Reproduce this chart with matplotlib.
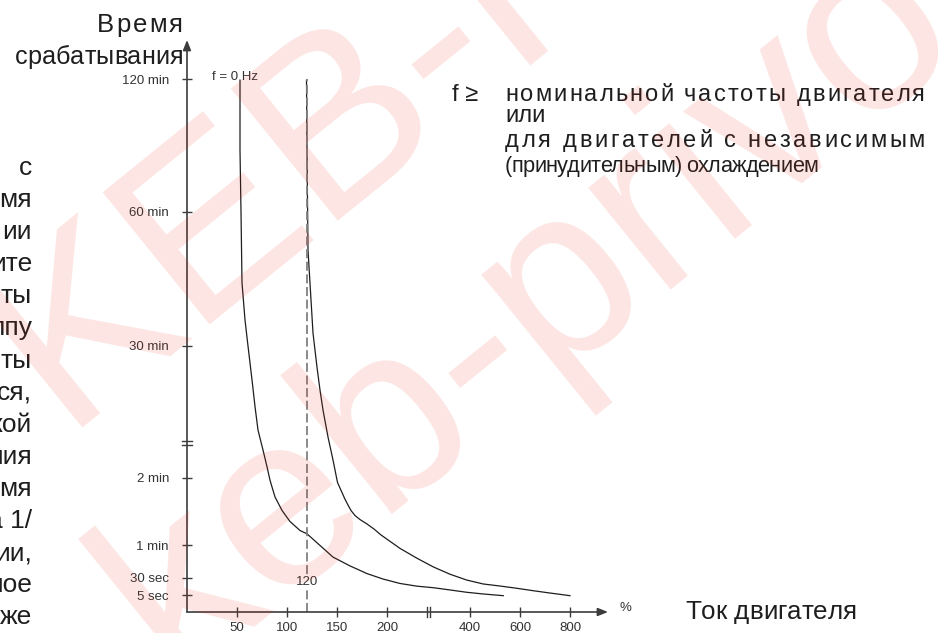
import numpy as np
import matplotlib
matplotlib.use("Agg")
import matplotlib.pyplot as plt
from matplotlib import font_manager, ft2font
from matplotlib.transforms import ScaledTranslation

plt.rcParams['font.family'] = ['Liberation Sans', 'DejaVu Sans']

# axis ticks
current_ticks = [50, 100, 150, 200, 400, 600, 800]
time_ticks = [5, 30, 60, 120, 1800, 3600, 7200]          # seconds
time_labels = ["5 sec", "30 sec", "1 min", "2 min", "30 min", "60 min", "120 min"]

# trip curve at f = 0 Hz  (motor current %, trip time s)
i_0hz = [53, 53, 54, 55, 58, 61, 65, 68, 71, 76, 80, 83, 88, 95, 103, 113, 120, 130,
         146, 163, 180, 196, 231, 272, 312, 352, 392, 453, 533]
t_0hz = [7170, 5280, 3600, 2650, 2150, 1800, 1370, 1030, 730, 476, 264, 118, 103, 91,
         81, 73, 70, 62, 49, 41, 34, 28.5, 22, 18, 15.7, 12.4, 9, 6.5, 4.8]

# trip curve at f >= rated frequency
i_nom = [119.5, 120, 121, 124, 126, 130, 133, 136, 141, 146, 150.5, 158, 161, 164, 168,
         173, 180, 187, 194, 231, 272, 312, 352, 392, 453, 520, 587, 653, 720, 800]
t_nom = [7170, 5280, 3090, 2420, 1975, 1530, 1240, 985, 642, 349, 116, 101, 95.8, 90.9,
         86.4, 82.8, 78.8, 74.3, 69, 57, 48, 40, 33.4, 27, 21.2, 18.2, 14.9, 11.3, 7.9, 4.8]

rated_current = 120
rated_top = 7200

# the drawing uses a broken, non-uniform scale on both axes
CUR_NODES = [0, 200, 400, 600, 800, 1000, 1200]
CUR_POS = [0, 200, 283, 333, 383, 433, 483]
T_NODES = [0, 5, 30, 60, 120, 1800, 3600, 7200, 10800]
T_POS = [0, 17, 34, 67, 134, 266, 400, 533, 611]
x_break = 300
y_break = 565

W, H = 938, 633
INK = '#1e1e1e'
AXIS = '#3c3c3c'
LBL = '#333333'
TEXT_FONT = 'Liberation Sans'

fig = plt.figure(figsize=(W / 100, H / 100), dpi=100)
ax = fig.add_axes([187 / W, 21 / H, 421 / W, 572 / H])
ax.set_xscale('function', functions=(lambda v: np.interp(v, CUR_NODES, CUR_POS),
                                     lambda p: np.interp(p, CUR_POS, CUR_NODES)))
ax.set_yscale('function', functions=(lambda v: np.interp(v, T_NODES, T_POS),
                                     lambda p: np.interp(p, T_POS, T_NODES)))
ax.set_xlim(0, 952)
ax.set_ylim(0, 9000)

ax.plot(i_0hz, t_0hz, color=INK, lw=0.9)
ax.plot(i_nom, t_nom, color=INK, lw=0.9)
ax.plot([rated_current, rated_current], [0, rated_top], color='#808080', lw=1.3, ls=(0, (5, 2)))
ax.text(rated_current, 24, "120", ha='center', va='center', fontsize=9.5, color=LBL,
        bbox=dict(fc='white', ec='none', pad=0.6))
ax.text(25, 7290, "f = 0 Hz", ha='left', va='center', fontsize=9.5, color=LBL)

for s in ax.spines.values():
    s.set_visible(False)
arrow = dict(arrowstyle='-|>,head_length=0.5,head_width=0.2', color=AXIS, lw=1.2,
             shrinkA=0, shrinkB=0, mutation_scale=12)
ax.annotate('', xy=(1, 0), xytext=(0, 0), xycoords='axes fraction', arrowprops=arrow)
ax.annotate('', xy=(0, 1), xytext=(0, 0), xycoords='axes fraction', arrowprops=arrow)
ax.annotate('%', xy=(1, 0), xycoords='axes fraction', xytext=(8, 3), textcoords='offset points',
            ha='left', va='center', fontsize=9.5, color=LBL)

ax.set_xticks(current_ticks, [str(c) for c in current_ticks])
ax.set_yticks(time_ticks, time_labels)
ax.minorticks_off()
ax.tick_params(direction='inout', length=7, width=1, color=AXIS, labelsize=9.5, labelcolor=LBL)
ax.tick_params(axis='y', pad=9.5)
ax.tick_params(axis='x', pad=4)

# break marks
for d in (-1.5, 1.5):
    off = ScaledTranslation(0, d / 72, fig.dpi_scale_trans)
    ax.plot([-0.013, 0.013], [y_break, y_break], transform=ax.get_yaxis_transform() + off,
            color=AXIS, lw=1, clip_on=False)
    off = ScaledTranslation(d * 0.7 / 72, 0, fig.dpi_scale_trans)
    ax.plot([x_break, x_break], [-0.008, 0.008], transform=ax.get_xaxis_transform() + off,
            color=AXIS, lw=1, clip_on=False)

# text set with tracking, like the original typesetting
ft = ft2font.FT2Font(font_manager.findfont(font_manager.FontProperties(family=TEXT_FONT)))


def track_text(s, x0, x1, base, size, color=INK):
    ft.set_size(size, 100)
    adv = [ft.load_char(ord(c)).linearHoriAdvance / 65536 for c in s]
    natural = sum(adv)
    if natural > x1 - x0:          # too long: shrink a little, then tighten
        k = max((x1 - x0) / natural, 0.92)
        size *= k
        adv = [a * k for a in adv]
        natural *= k
    extra = (x1 - x0 - natural) / max(len(s) - 1, 1)
    x = x0
    for c, a in zip(s, adv):
        if c != ' ':
            fig.text(x / W, 1 - base / H, c, fontsize=size, color=color, family=TEXT_FONT,
                     ha='left', va='baseline')
        x += a + extra


track_text("Время", 97, 183, 32, 18.5)
track_text("срабатывания", 15, 183, 64, 18.5)
track_text("Ток двигателя", 685, 857, 619, 19)
fig.text(452 / W, 1 - 101 / H, "f ≥", fontsize=17, color=INK, ha='left', va='baseline',
         family=[TEXT_FONT, 'DejaVu Sans'])
track_text("номинальной частоты двигателя", 505, 925, 101, 17)
fig.text(505 / W, 1 - 122 / H, "или", fontsize=17, color=INK, ha='left', va='baseline',
         family=TEXT_FONT)
track_text("для двигателей с независимым", 505, 925, 147, 17)
track_text("(принудительным) охлаждением", 505, 818, 172, 17)

# cut-off column of body text at the left edge
left_column = ["с", "мя", "ии", "ите", "ты", "ппу", "ты", "ся,", "кой", "ния", "мя",
               "а 1/", "ии,", "ное", "же"]
for k, frag in enumerate(left_column):
    fig.text(32 / W, 1 - (175 + 32.1 * k) / H, frag, fontsize=19, color=INK,
             family=TEXT_FONT, ha='right', va='baseline')

# watermark of the source
for txt, x, y in [("KEB-PRIVOD", 62, 427), ("keb-privod", 174, 678)]:
    fig.text(x / W, 1 - y / H, txt, fontsize=178, color='#e62814', alpha=0.12, rotation=39,
             rotation_mode='anchor', ha='left', va='baseline', zorder=10)

fig.savefig('out.png', dpi=100)
